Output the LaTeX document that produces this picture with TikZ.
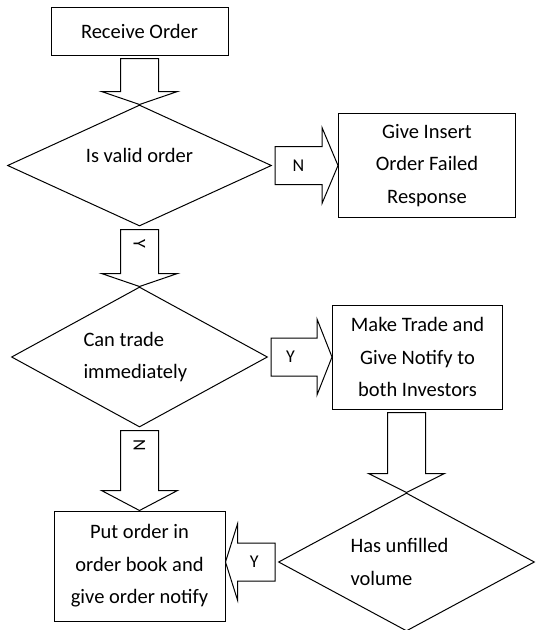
\documentclass[tikz,border=0pt]{standalone}
\usepackage{fontspec}
\setmainfont{Carlito}
\usetikzlibrary{shapes.geometric,positioning,calc}

\tikzset{
  procbox/.style={draw,line width=1pt,align=center,inner sep=2pt},
  decision/.style={draw,diamond,aspect=2,line width=1pt,inner sep=0pt,minimum width=256pt},
  fatline/.style={draw,line width=1pt,fill=white},
  lbl/.style={font=\fontsize{18}{20}\selectfont,inner sep=0pt}
}

% block arrow between two anchors: [head length]{from}{to}
\newcommand{\fatarrow}[3][15pt]{%
  \coordinate (fs) at ($(#2)!3pt!(#3)$);
  \coordinate (fh) at ($(#3)!#1!(#2)$);
  \draw[fatline] ($(fs)!19pt!90:(#3)$) -- ($(fh)!19pt!90:(#3)$) -- ($(fh)!38pt!90:(#3)$) -- (#3)
    -- ($(fh)!38pt!-90:(#3)$) -- ($(fh)!19pt!-90:(#3)$) -- ($(fs)!19pt!-90:(#3)$) -- cycle;
}

\begin{document}
\begin{tikzpicture}[x=1pt,y=1pt,font=\fontsize{20.5}{32.5}\selectfont]
\useasboundingbox (0,0) rectangle (541,-630);
\node[procbox,minimum width=177pt,minimum height=48pt](recv) at (139.5,-31){Receive Order};
\node[decision,minimum width=264pt,minimum height=121pt,text height=14pt,text depth=21pt,below=49pt of recv](valid){Is valid order};
\node[procbox,minimum width=177pt,minimum height=104pt,right=66pt of valid](fail){Give Insert\\Order Failed\\Response};
\node[decision,minimum height=140pt,text width=112pt,align=flush left,below=60pt of valid](trade){Can trade\\immediately};
\node[procbox,minimum width=170pt,minimum height=104pt,right=64pt of trade](make){Make Trade and\\Give Notify to\\both Investors};
\node[decision,minimum height=138pt,text width=112pt,align=flush left,below=83pt of make,xshift=-11pt](unfilled){Has unfilled\\volume};
\node[procbox,minimum width=171pt,minimum height=110pt,below=83pt of trade](put){Put order in\\order book and\\give order notify};

\fatarrow[13pt]{recv.south}{valid.north}
\fatarrow[16pt]{valid.east}{fail.west}
\fatarrow[13pt]{valid.south}{trade.north}
\fatarrow{trade.east}{make.west}
\fatarrow[19pt]{make.south -| unfilled.north}{unfilled.north}
\fatarrow[20pt]{trade.south}{put.north}
\fatarrow[12pt]{unfilled.west}{unfilled.west -| put.east}

\node[lbl](n1) at ($(valid.east)!0.4!(fail.west)$){N};
\node[lbl,rotate=-90](y1) at ($(valid.south)!17pt!(trade.north)$){Y};
\node[lbl](y2) at ($(trade.east)!0.35!(make.west)$){Y};
\node[lbl,rotate=-90](n2) at ($(trade.south)!18pt!(put.north)$){N};
\node[lbl](y3) at ($(unfilled.west)!0.45!(unfilled.west -| put.east)$){Y};
\end{tikzpicture}
\end{document}
